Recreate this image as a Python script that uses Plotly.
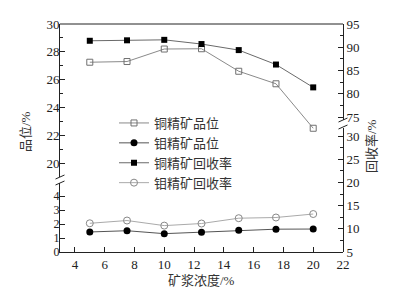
import plotly.graph_objects as go

# ---------------- data ----------------
slurry_conc = [5, 7.5, 10, 12.5, 15, 17.5, 20]
cu_grade = [27.25, 27.3, 28.2, 28.22, 26.6, 25.7, 22.5]
mo_grade = [1.43, 1.52, 1.31, 1.41, 1.55, 1.63, 1.64]
cu_recovery = [91.4, 91.5, 91.6, 90.7, 89.4, 86.3, 81.4]
mo_recovery = [11.2, 11.8, 10.7, 11.15, 12.3, 12.45, 13.2]

x_ticks = [4, 6, 8, 10, 12, 14, 16, 18, 20, 22]
left_low_ticks = [0, 1, 2, 3, 4]
left_up_ticks = [20, 22, 24, 26, 28, 30]
right_low_ticks = [5, 10, 15, 20, 25, 30]
right_up_ticks = [75, 80, 85, 90, 95]

names = ["铜精矿品位", "钼精矿品位", "铜精矿回收率", "钼精矿回收率"]
x_title = "矿浆浓度/%"
left_title = "品位/%"
right_title = "回收率/%"

# ---------------- layout constants ----------------
W, H = 405, 290
L, R, T, B = 60, 62, 24, 38
PH = H - T - B  # plot height px
PW = W - L - R
bottom_px = H - B


def py(p):
    """pixel y -> paper y"""
    return (bottom_px - p) / PH


def px(p):
    return (p - L) / PW


NUMFONT = "Times New Roman, Liberation Serif, serif"
FONT = "Times New Roman, Liberation Serif, Noto Sans CJK SC, serif"
AX = "#222222"
TXT = "#333333"

fig = go.Figure()

fig.add_trace(go.Scatter(
    x=slurry_conc, y=cu_grade, name=names[0], yaxis="y2", mode="lines+markers",
    line=dict(color="#8a8a8a", width=1),
    marker=dict(symbol="square-open", size=6, color="#707070", line=dict(width=1))))
fig.add_trace(go.Scatter(
    x=slurry_conc, y=mo_grade, name=names[1], yaxis="y", mode="lines+markers",
    line=dict(color="#555555", width=1),
    marker=dict(symbol="circle", size=7, color="#000000")))
fig.add_trace(go.Scatter(
    x=slurry_conc, y=cu_recovery, name=names[2], yaxis="y3", mode="lines+markers",
    line=dict(color="#6a6a6a", width=1),
    marker=dict(symbol="square", size=6, color="#000000")))
fig.add_trace(go.Scatter(
    x=slurry_conc, y=mo_recovery, name=names[3], yaxis="y4", mode="lines+markers",
    line=dict(color="#aaaaaa", width=1),
    marker=dict(symbol="circle-open", size=7, color="#888888", line=dict(width=1))))

base_y = dict(showgrid=False, zeroline=False, showline=True, linecolor=AX, linewidth=1,
              ticks="inside", ticklen=5, tickcolor=AX, anchor="x")
tf13 = dict(family=NUMFONT, size=13, color=AX)
tf12 = dict(family=NUMFONT, size=12, color=AX)

fig.update_layout(
    width=W, height=H,
    margin=dict(l=L, r=R, t=T, b=B),
    paper_bgcolor="white", plot_bgcolor="rgba(0,0,0,0)",
    font=dict(family=FONT, size=13, color=AX),
    showlegend=True,
    legend=dict(x=px(114), y=py(153), xanchor="left", yanchor="middle",
                bgcolor="rgba(0,0,0,0)", font=dict(family=FONT, size=13, color=TXT),
                traceorder="normal"),
    xaxis=dict(range=[3, 22], tickvals=x_ticks, showgrid=False, zeroline=False,
               showline=True, linecolor=AX, linewidth=1, ticks="inside", ticklen=5,
               tickcolor=AX, anchor="y", tickfont=tf13),
    yaxis=dict(domain=[0, py(183)], range=[0, 69 / 14], tickvals=left_low_ticks,
               tickfont=tf12, ticklabelstandoff=-3, **base_y),
    yaxis2=dict(domain=[py(177), 1], range=[30 - (177 - T) / 13.9, 30], tickvals=left_up_ticks,
                minor=dict(tickvals=[21, 23, 25, 27, 29], ticks="inside", ticklen=3, tickcolor=AX),
                tickfont=tf13, ticklabelstandoff=-3, **base_y),
    yaxis3=dict(domain=[py(120), 1], range=[95 - (120 - T) / 4.66, 95], side="right",
                tickvals=right_up_ticks,
                minor=dict(tickvals=[77.5, 82.5, 87.5, 92.5], ticks="inside", ticklen=3, tickcolor=AX),
                tickfont=tf13, **base_y),
    yaxis4=dict(domain=[0, py(128)], range=[5, 5 + (bottom_px - 128) / 4.63], side="right",
                tickvals=right_low_ticks,
                minor=dict(tickvals=[7.5, 12.5, 17.5, 22.5, 27.5], ticks="inside", ticklen=3, tickcolor=AX),
                tickfont=tf13, **base_y),
)

# top frame line
fig.add_shape(type="line", xref="paper", yref="paper", x0=0, x1=1, y0=1, y1=1,
              line=dict(color=AX, width=1))

# axis break marks
def brk(xp, ypix):
    fig.add_shape(type="line", xref="paper", yref="paper",
                  x0=px(xp - 4.5), x1=px(xp + 4.5), y0=py(ypix + 2), y1=py(ypix - 2),
                  line=dict(color=AX, width=1))

brk(L, 177)
brk(L, 183)
brk(L + PW, 120)
brk(L + PW, 127)

# axis titles
tfont = dict(family=FONT, size=13, color=TXT)
fig.add_annotation(text=x_title, xref="paper", yref="paper", x=px(201), y=py(280),
                   xanchor="center", yanchor="middle", showarrow=False, font=tfont)
fig.add_annotation(text=left_title, xref="paper", yref="paper", x=px(25), y=py(132),
                   xanchor="center", yanchor="middle",
                   textangle=-90, showarrow=False, font=tfont)
fig.add_annotation(text=right_title, xref="paper", yref="paper", x=px(371), y=py(146),
                   xanchor="center", yanchor="middle",
                   textangle=-90, showarrow=False, font=tfont)

fig.write_html("out.html")
